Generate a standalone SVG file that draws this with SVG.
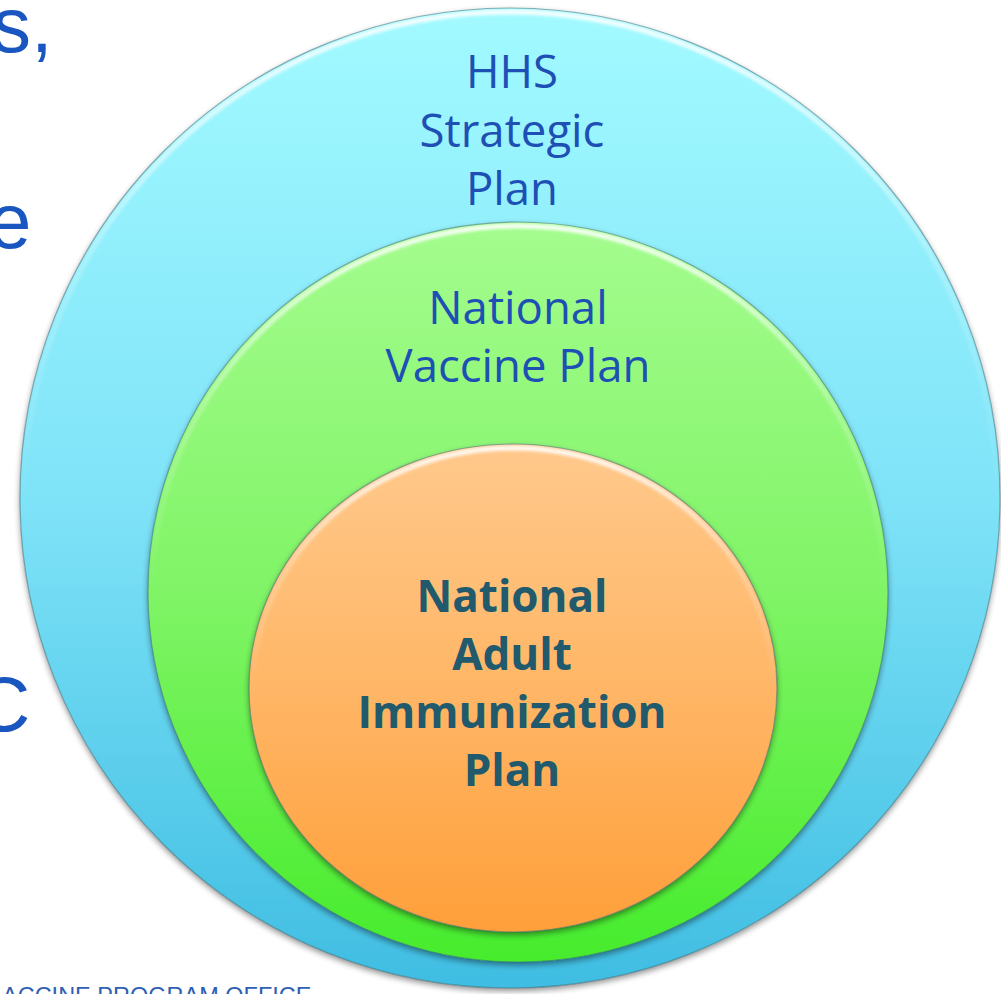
<svg xmlns="http://www.w3.org/2000/svg" width="1001" height="994" viewBox="0 0 1001 994">
  <defs>
    <linearGradient id="gBlue" x1="0" y1="0" x2="0" y2="1">
      <stop offset="0" stop-color="#a2faff"/>
      <stop offset="0.5" stop-color="#7fe3f8"/>
      <stop offset="1" stop-color="#3fbde2"/>
    </linearGradient>
    <linearGradient id="gGreen" x1="0" y1="0" x2="0" y2="1">
      <stop offset="0" stop-color="#a4fc8e"/>
      <stop offset="0.5" stop-color="#80f466"/>
      <stop offset="1" stop-color="#46ec2c"/>
    </linearGradient>
    <linearGradient id="gOrange" x1="0" y1="0" x2="0" y2="1">
      <stop offset="0" stop-color="#ffc98c"/>
      <stop offset="0.5" stop-color="#ffb666"/>
      <stop offset="1" stop-color="#ff9f3a"/>
    </linearGradient>
    <linearGradient id="gRim" x1="0" y1="0" x2="0" y2="1">
      <stop offset="0" stop-color="#ffffff" stop-opacity="0.9"/>
      <stop offset="0.25" stop-color="#ffffff" stop-opacity="0.25"/>
      <stop offset="0.5" stop-color="#ffffff" stop-opacity="0"/>
    </linearGradient>
    <filter id="shadow" x="-10%" y="-10%" width="120%" height="120%">
      <feGaussianBlur in="SourceAlpha" stdDeviation="3"/>
      <feOffset dx="0" dy="3" result="b"/>
      <feComponentTransfer><feFuncA type="linear" slope="0.45"/></feComponentTransfer>
      <feMerge><feMergeNode/><feMergeNode in="SourceGraphic"/></feMerge>
    </filter>
    <filter id="soft"><feGaussianBlur stdDeviation="1.5"/></filter>
  </defs>
  <style>
    .edge { fill: none; stroke: #3a6f7a; stroke-opacity: 0.55; stroke-width: 1.2; }
    .rim { fill: none; stroke: url(#gRim); stroke-width: 5; filter: url(#soft); }
    .lbl { font-family: "Open Sans", "Liberation Sans", sans-serif; font-size: 45.5px; fill: #1d4fb4; text-anchor: middle; }
    .lblb { font-family: "Open Sans", "Liberation Sans", sans-serif; font-size: 44px; font-weight: bold; fill: #215a6c; text-anchor: middle; }
    .side { font-family: "Liberation Sans", Arial, sans-serif; font-size: 78px; fill: #1a56bf; }
    .foot { font-family: "Liberation Sans", Arial, sans-serif; font-size: 23.5px; fill: #2f5fb3; }
  </style>

  <g id="side-text">
    <text class="side" x="-8" y="52">s,</text>
    <text class="side" x="-12" y="248">e</text>
    <text class="side" x="-26" y="731">C</text>
    <text class="foot" x="2" y="1004">ACCINE PROGRAM OFFICE</text>
  </g>

  <g id="hhs">
    <circle cx="510" cy="498" r="490" fill="url(#gBlue)" filter="url(#shadow)"/>
    <circle cx="510" cy="498" r="486" class="rim"/>
    <circle cx="510" cy="498" r="490" class="edge"/>
    <text class="lbl" x="512" y="88">HHS</text>
    <text class="lbl" x="512" y="147">Strategic</text>
    <text class="lbl" x="512" y="205">Plan</text>
  </g>

  <g id="nvp">
    <circle cx="518" cy="592" r="370" fill="url(#gGreen)" filter="url(#shadow)"/>
    <circle cx="518" cy="592" r="366" class="rim"/>
    <circle cx="518" cy="592" r="370" class="edge"/>
    <text class="lbl" x="518" y="324">National</text>
    <text class="lbl" x="518" y="382">Vaccine Plan</text>
  </g>

  <g id="naip">
    <ellipse cx="513" cy="688" rx="264" ry="244" fill="url(#gOrange)" filter="url(#shadow)"/>
    <ellipse cx="513" cy="688" rx="260" ry="240" class="rim"/>
    <ellipse cx="513" cy="688" rx="264" ry="244" class="edge"/>
    <text class="lblb" x="512" y="612">National</text>
    <text class="lblb" x="512" y="670">Adult</text>
    <text class="lblb" x="512" y="728">Immunization</text>
    <text class="lblb" x="512" y="786">Plan</text>
  </g>

  <g id="connectors"/>
</svg>
